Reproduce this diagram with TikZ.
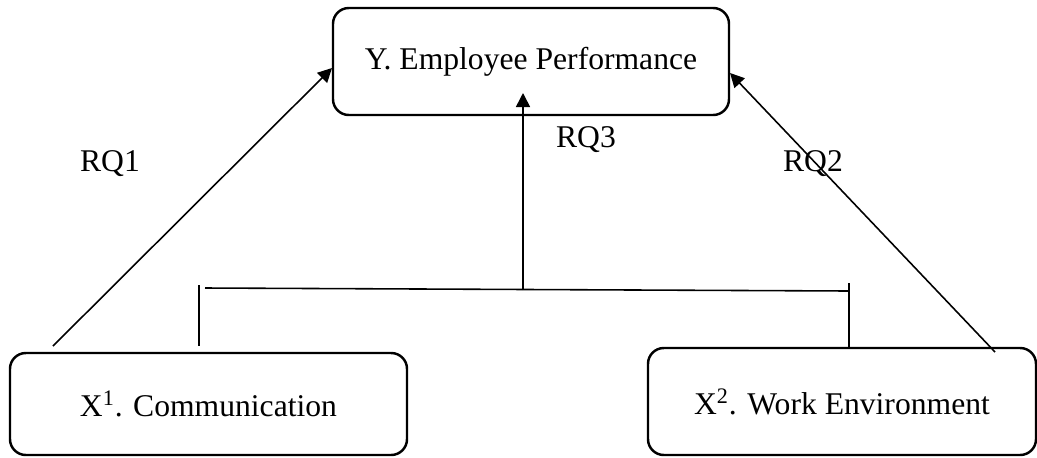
\documentclass[tikz,border=0pt]{standalone}
\usepackage{fontspec}
\setmainfont{Liberation Serif}
\usetikzlibrary{arrows.meta,positioning,calc}

\begin{document}
\begin{tikzpicture}[x=0.02cm, y=-0.02cm, >={Triangle[length=8pt,width=8pt]},
  varbox/.style={draw, line width=1.4pt, rounded corners=9pt, inner sep=0pt},
  link/.style={line width=0.9pt},
  every node/.append style={font=\fontsize{18}{21}\selectfont}]
\useasboundingbox (0,0) rectangle (1037,457);
% variables
\node[varbox, minimum width=396*0.02cm, minimum height=107*0.02cm] (perf) at (531,61.5) {Y. Employee Performance};
\node[varbox, minimum width=397*0.02cm, minimum height=102*0.02cm] (comm) at (208.5,404) {X\textsuperscript{1}. Communication};
\node[varbox, minimum width=388*0.02cm, minimum height=107*0.02cm] (env) at (842,401.5) {X\textsuperscript{2}. Work Environment};
% free ends of the connectors
\coordinate (c1) at (53,346);
\coordinate (c2) at (995,352);
\coordinate (t1) at (332,68);
\coordinate (t2) at (730,73);
\coordinate (t3) at (523,93);
\coordinate (j) at (523,290);
\coordinate (bl) at (205,288);
\coordinate (br) at (849,291);
% direct effects
\draw[link, ->] (c1) -- (t1);
\draw[link, ->] (c2) -- (t2);
% joint effect
\draw[link] (199,285) -- (199,346);
\draw[link] (849,283) -- (849,348);
\draw[link] (bl) -- (br);
\draw[link, ->] (j) -- (t3);
% labels
\node (rq1) at (110,164) {RQ1};
\node (rq3) at (586,140) {RQ3};
\node (rq2) at (813,164) {RQ2};
\end{tikzpicture}
\end{document}
